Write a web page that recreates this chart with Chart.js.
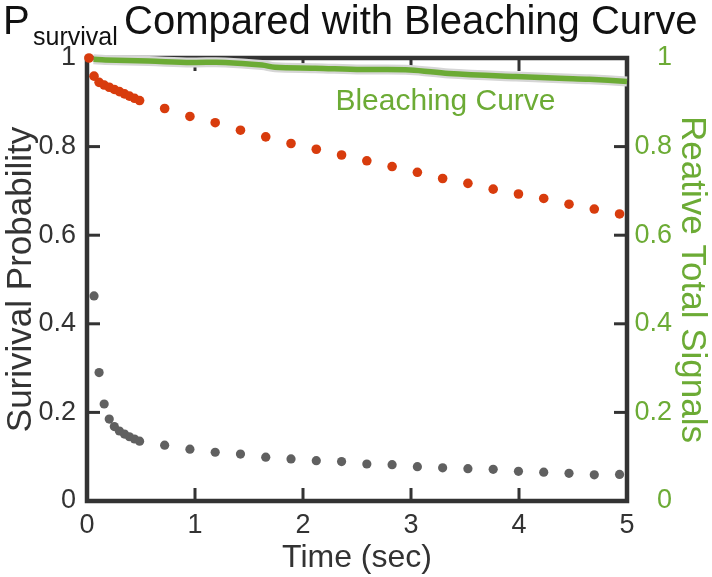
<!DOCTYPE html>
<html>
<head>
<meta charset="utf-8">
<script src="https://cdn.jsdelivr.net/npm/chart.js@4.4.0/dist/chart.umd.min.js"></script>
<style>
  html, body { margin: 0; padding: 0; background: #fff; }
  #wrap { width: 712px; height: 577px; }
</style>
</head>
<body>
<div id="wrap"><canvas id="chart" width="712" height="577"></canvas></div>
<script>
const FONT = '"Liberation Sans", Arial, Helvetica, sans-serif';
const DARK = '#333333';
const GREEN = '#6cab35';
const RED = '#d83c0d';
const GRAY = '#606060';

// time points (sec)
const startTime = [0.018];
const clusterTimes = [0.065, 0.112, 0.159, 0.206, 0.253, 0.300, 0.347, 0.393, 0.440, 0.487];
const laterTimes = [0.719, 0.953, 1.187, 1.421, 1.655, 1.889, 2.123, 2.357, 2.591, 2.825,
  3.059, 3.293, 3.527, 3.761, 3.995, 4.229, 4.463, 4.697, 4.931];

// survival probability, bleaching corrected (red)
const correctedStart = [1.0];
const correctedCluster = [0.959, 0.945, 0.939, 0.934, 0.929, 0.924, 0.919, 0.914, 0.909, 0.904];
const correctedLater = [0.886, 0.868, 0.854, 0.837, 0.822, 0.807, 0.794, 0.781, 0.768, 0.755,
  0.742, 0.728, 0.717, 0.704, 0.693, 0.683, 0.670, 0.659, 0.648];

// raw survival probability (gray)
const rawCluster = [0.463, 0.290, 0.219, 0.185, 0.168, 0.158, 0.151, 0.145, 0.140, 0.135];
const rawLater = [0.126, 0.117, 0.110, 0.106, 0.099, 0.095, 0.091, 0.089, 0.0835, 0.082,
  0.0775, 0.075, 0.073, 0.0715, 0.067, 0.065, 0.0625, 0.059, 0.060];

// bleaching curve (green, right axis)
const bleachTimes = [0.06, 0.17, 0.57, 0.97, 1.28, 1.62, 1.74, 2.11, 2.55, 2.99, 3.35, 3.97, 4.43, 4.65, 5.0];
const bleachValues = [0.997, 0.9955, 0.993, 0.990, 0.990, 0.984, 0.979, 0.977, 0.974, 0.973, 0.965, 0.958, 0.954, 0.952, 0.947];

const xTicks = [0, 1, 2, 3, 4, 5];
const yTicks = [0, 0.2, 0.4, 0.6, 0.8, 1];

const toPoints = (xs, ys) => xs.map((t, i) => ({ x: t, y: ys[i] }));

const corrected = toPoints(startTime.concat(clusterTimes, laterTimes),
  correctedStart.concat(correctedCluster, correctedLater));
const raw = toPoints(clusterTimes.concat(laterTimes), rawCluster.concat(rawLater));
const bleach = toPoints(bleachTimes, bleachValues);

const tickLabel = v => String(v);

// frame + inward ticks
const framePlugin = {
  id: 'frame',
  beforeDatasetsDraw(chart) {
    const { ctx, chartArea: a, scales } = chart;
    ctx.save();
    ctx.strokeStyle = DARK;
    ctx.lineWidth = 3;
    const line = (x1, y1, x2, y2) => { ctx.beginPath(); ctx.moveTo(x1, y1); ctx.lineTo(x2, y2); ctx.stroke(); };
    const len = 13;
    xTicks.slice(1, -1).forEach(v => {
      const px = scales.x.getPixelForValue(v);
      line(px, a.bottom, px, a.bottom - len);
      line(px, a.top, px, a.top + len);
    });
    yTicks.slice(1, -1).forEach(v => {
      const py = scales.y.getPixelForValue(v);
      line(a.left, py, a.left + len, py);
      line(a.right, py, a.right - len, py);
    });
    ctx.lineWidth = 4.5;
    ctx.strokeRect(a.left, a.top, a.right - a.left, a.bottom - a.top);
    ctx.restore();
  }
};

// titles and in-plot label
const textPlugin = {
  id: 'texts',
  afterDraw(chart) {
    const { ctx, scales } = chart;
    ctx.save();
    ctx.fillStyle = '#111';
    ctx.textBaseline = 'alphabetic';
    ctx.textAlign = 'left';
    ctx.font = '40px ' + FONT;
    ctx.fillText('P', 3, 34);
    ctx.font = '25px ' + FONT;
    ctx.fillText('survival', 33, 45);
    ctx.font = '40px ' + FONT;
    ctx.fillText('Compared with Bleaching Curve', 124, 34);

    ctx.fillStyle = GREEN;
    ctx.font = '30px ' + FONT;
    ctx.fillText('Bleaching Curve', scales.x.getPixelForValue(2.3), scales.y.getPixelForValue(0.883));

    ctx.font = '35px ' + FONT;
    ctx.translate(692, (chart.chartArea.top + chart.chartArea.bottom) / 2);
    ctx.rotate(Math.PI / 2);
    ctx.textAlign = 'center';
    ctx.textBaseline = 'middle';
    ctx.fillText('Reative Total Signals', 0, 0);
    ctx.restore();
  }
};

new Chart(document.getElementById('chart'), {
  type: 'scatter',
  data: {
    datasets: [
      {
        label: 'Corrected',
        data: corrected,
        backgroundColor: RED,
        borderWidth: 0,
        pointRadius: 4.8,
        clip: false,
        order: 1
      },
      {
        label: 'Raw',
        data: raw,
        backgroundColor: GRAY,
        borderWidth: 0,
        pointRadius: 4.6,
        clip: false,
        order: 2
      },
      {
        label: 'Bleaching Curve',
        type: 'line',
        data: bleach,
        yAxisID: 'y2',
        borderColor: GREEN,
        borderWidth: 5.5,
        pointRadius: 0,
        tension: 0.35,
        clip: false,
        order: 3
      },
      {
        label: 'Bleaching band',
        type: 'line',
        data: bleach,
        yAxisID: 'y2',
        borderColor: '#d6d6d6',
        borderWidth: 10,
        pointRadius: 0,
        tension: 0.35,
        clip: false,
        order: 4
      }
    ]
  },
  options: {
    responsive: false,
    animation: false,
    layout: { padding: { top: 58, right: 40, left: 0, bottom: 0 } },
    plugins: { legend: { display: false }, tooltip: { enabled: false } },
    scales: {
      x: {
        type: 'linear',
        min: 0, max: 5,
        afterBuildTicks: s => { s.ticks = xTicks.map(v => ({ value: v })); },
        afterFit: s => { s.height = 76; },
        grid: { display: false, drawTicks: false },
        border: { display: false },
        ticks: { color: DARK, font: { family: FONT, size: 27 }, padding: 8, maxRotation: 0, callback: tickLabel },
        title: { display: true, text: 'Time (sec)', color: DARK, font: { family: FONT, size: 32 }, padding: 0 }
      },
      y: {
        min: 0, max: 1,
        afterBuildTicks: s => { s.ticks = yTicks.map(v => ({ value: v })); },
        afterFit: s => { s.width = 87; },
        grid: { display: false, drawTicks: false },
        border: { display: false },
        ticks: { color: DARK, font: { family: FONT, size: 27 }, padding: 11, callback: tickLabel },
        title: { display: true, text: 'Surivival Probability', color: DARK, font: { family: FONT, size: 35 }, padding: 0 }
      },
      y2: {
        position: 'right',
        min: 0, max: 1,
        afterBuildTicks: s => { s.ticks = yTicks.map(v => ({ value: v })); },
        afterFit: s => { s.width = 45; },
        grid: { display: false, drawTicks: false },
        border: { display: false },
        ticks: { color: GREEN, font: { family: FONT, size: 27 }, padding: 5, crossAlign: 'far', callback: tickLabel }
      }
    }
  },
  plugins: [framePlugin, textPlugin]
});
</script>
</body>
</html>
